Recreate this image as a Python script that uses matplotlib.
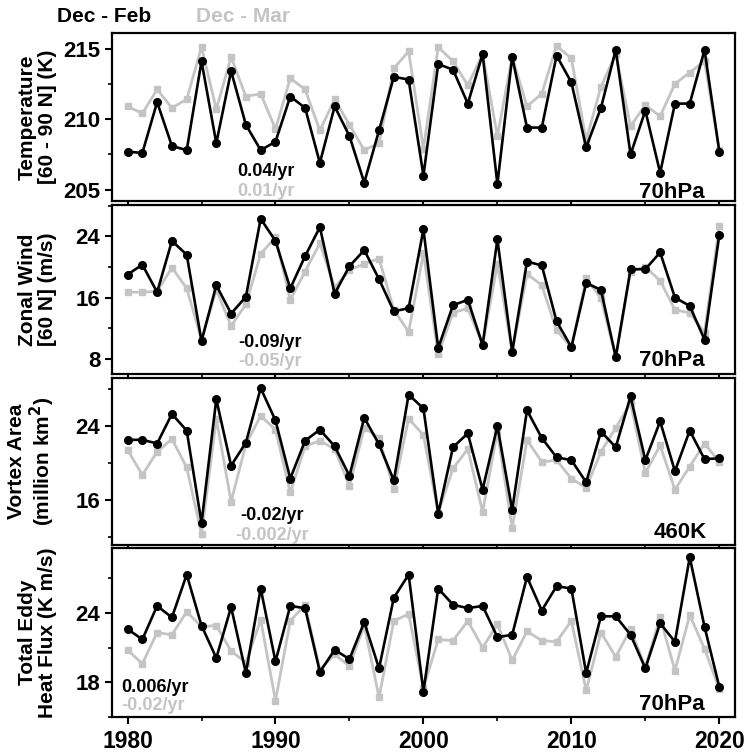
import numpy as np
import matplotlib
matplotlib.use("Agg")
import matplotlib.pyplot as plt
from matplotlib.ticker import MultipleLocator

years = np.arange(1980, 2021)

# polar cap temperature at 70hPa (K)
temp_djf = [207.7, 207.6, 211.2, 208.1, 207.8, 214.1, 208.3, 213.4, 209.6, 207.8,
            208.4, 211.6, 210.8, 206.9, 210.9, 208.8, 205.5, 209.2, 213.0, 212.8,
            206.0, 213.9, 213.5, 211.1, 214.6, 205.4, 214.4, 209.4, 209.4, 214.5,
            212.6, 208.0, 210.8, 214.9, 207.5, 210.6, 206.2, 211.1, 211.1, 214.9,
            207.7]
temp_djfm = [210.9, 210.4, 212.1, 210.8, 211.4, 215.1, 210.7, 214.4, 211.6, 211.8,
             209.3, 212.9, 212.1, 209.2, 211.4, 209.6, 207.8, 208.3, 213.6, 214.8,
             207.9, 215.1, 214.1, 212.4, 214.6, 208.8, 214.4, 210.9, 211.8, 215.2,
             214.3, 208.5, 212.3, 214.6, 209.5, 211.0, 210.2, 212.5, 213.3, 214.1,
             207.8]

# zonal mean zonal wind at 60N, 70hPa (m/s)
wind_djf = [19.0, 20.3, 16.7, 23.4, 21.6, 10.3, 17.6, 13.9, 16.1, 26.3,
            23.4, 17.2, 21.4, 25.2, 16.5, 20.1, 22.2, 18.4, 14.2, 14.6,
            24.9, 9.4, 15.0, 15.7, 9.8, 23.6, 8.9, 20.7, 20.2, 12.9,
            9.5, 17.9, 17.0, 8.2, 19.7, 19.7, 21.9, 16.0, 14.9, 10.5,
            24.2]
wind_djfm = [16.7, 16.7, 16.8, 19.9, 17.2, 10.5, 17.0, 12.3, 15.1, 21.7,
             23.9, 15.7, 19.4, 23.1, 17.3, 19.6, 20.4, 21.1, 14.4, 11.5,
             21.8, 8.6, 14.0, 14.6, 9.8, 20.4, 8.9, 19.1, 17.6, 11.7,
             9.5, 18.5, 15.9, 8.2, 19.4, 20.0, 18.2, 14.4, 14.0, 11.4,
             25.4]

# polar vortex area at 460K (million km^2)
area_djf = [22.5, 22.5, 22.1, 25.3, 23.5, 13.5, 26.9, 19.7, 22.2, 28.1,
            24.6, 18.3, 22.4, 23.6, 21.8, 18.6, 24.9, 22.0, 18.1, 27.4,
            25.9, 14.5, 21.7, 23.2, 17.1, 24.0, 14.9, 25.7, 22.7, 20.6,
            20.3, 17.9, 23.4, 21.7, 27.2, 20.3, 24.5, 19.1, 23.5, 20.4,
            20.5]
area_djfm = [21.4, 18.7, 21.2, 22.6, 19.5, 12.3, 24.8, 15.8, 22.0, 25.1,
             23.6, 16.8, 21.8, 22.4, 21.5, 17.5, 23.8, 22.7, 17.2, 24.8,
             23.0, 14.6, 19.4, 21.5, 14.7, 23.4, 12.9, 22.5, 20.1, 20.3,
             18.3, 17.3, 21.2, 23.8, 26.5, 18.9, 21.9, 17.1, 19.6, 22.1,
             20.1]

# total eddy heat flux at 70hPa (K m/s)
flux_djf = [22.6, 21.7, 24.6, 23.6, 27.3, 22.9, 20.1, 24.5, 18.8, 26.1,
            19.8, 24.6, 24.4, 18.9, 20.8, 20.0, 23.2, 19.2, 25.3, 27.3,
            17.2, 26.1, 24.7, 24.4, 24.6, 21.9, 22.1, 27.1, 24.2, 26.3,
            26.1, 18.8, 23.7, 23.7, 22.1, 19.2, 23.1, 21.5, 28.8, 22.8,
            17.6]
flux_djfm = [20.8, 19.6, 22.3, 22.1, 24.1, 22.8, 22.9, 20.7, 19.7, 23.4,
             16.4, 23.3, 24.7, 19.1, 20.4, 19.4, 22.9, 16.7, 23.3, 23.9,
             17.5, 21.7, 21.6, 23.3, 21.0, 23.0, 19.9, 22.4, 21.6, 21.5,
             23.3, 17.3, 22.3, 20.2, 22.6, 19.3, 23.6, 19.0, 23.8, 20.9,
             17.4]

trend_djf = ["0.04/yr", "-0.09/yr", "-0.02/yr", "0.006/yr"]
trend_djfm = ["0.01/yr", "-0.05/yr", "-0.002/yr", "-0.02/yr"]
levels = ["70hPa", "70hPa", "460K", "70hPa"]
ylabels = ["Temperature\n[60 - 90 N] (K)", "Zonal Wind\n[60 N] (m/s)",
           "Vortex Area\n(million km$^\\mathbf{2}$)", "Total Eddy\nHeat Flux (K m/s)"]

GRAY = "#c4c4c4"
FONT = ["Liberation Sans", "DejaVu Sans"]
W, H = 748, 753

fig = plt.figure(figsize=(W / 100, H / 100), dpi=100)

# panel pixel boxes: (top, bottom)
boxes = [(33, 201), (205, 374), (378, 545), (548, 717)]
left, right = 112, 735
ylims = [(204.2, 216.1), (6.0, 28.1), (11.1, 29.2), (15.0, 29.6)]
ymaj = [5, 8, 8, 6]
series = [(temp_djf, temp_djfm), (wind_djf, wind_djfm),
          (area_djf, area_djfm), (flux_djf, flux_djfm)]

# text anchors in figure pixels: (x_trend, y_trend1, y_trend2, ha, x_level, y_level)
txt = [(266, 172, 191, "center", 672, 192),
       (270, 342, 362, "center", 672, 361),
       (272, 516, 535, "center", 680, 532),
       (121, 687, 706, "left", 672, 705)]

def fx(px):
    return px / W

def fy(py):
    return 1 - py / H

axes = []
for i, (top, bot) in enumerate(boxes):
    ax = fig.add_axes([fx(left), fy(bot), fx(right) - fx(left), (bot - top) / H])
    d1, d2 = series[i]
    ax.plot(years, d2, color=GRAY, lw=2, marker="s", ms=4, zorder=2)
    ax.plot(years, d1, color="black", lw=1.9, marker="o", ms=5.5, zorder=3)
    ax.set_xlim(1978.95, 2021.06)
    ax.set_ylim(*ylims[i])
    ax.yaxis.set_major_locator(MultipleLocator(ymaj[i]))
    ax.yaxis.set_minor_locator(MultipleLocator(ymaj[i] / 2))
    ax.xaxis.set_major_locator(MultipleLocator(10))
    ax.xaxis.set_minor_locator(MultipleLocator(5))
    ax.tick_params(axis="both", which="major", direction="out", length=5, width=1.5)
    ax.tick_params(axis="both", which="minor", direction="out", length=3, width=1.2)
    for s in ax.spines.values():
        s.set_linewidth(1.6)
    for lab in ax.get_yticklabels():
        lab.set_family(FONT)
        lab.set_fontweight("bold")
        lab.set_fontsize(16)
    if i < 3:
        ax.tick_params(axis="x", labelbottom=False)
    else:
        ax.tick_params(axis="x", pad=4)
        for lab in ax.get_xticklabels():
            lab.set_family(FONT)
            lab.set_fontweight("bold")
            lab.set_fontsize(16.5)
    ax.set_ylabel(ylabels[i], fontsize=15, fontweight="bold",
                  family=FONT, linespacing=1.05)
    ax.yaxis.set_label_coords(-0.089, 0.5)

    xt, y1, y2, ha, xl, yl = txt[i]
    fig.text(fx(xt), fy(y1), trend_djf[i], color="black", ha=ha, va="center",
             fontsize=13, fontweight="bold", family=FONT)
    fig.text(fx(xt), fy(y2), trend_djfm[i], color=GRAY, ha=ha, va="center",
             fontsize=13, fontweight="bold", family=FONT)
    fig.text(fx(xl), fy(yl), levels[i], color="black", ha="center", va="center",
             fontsize=16, fontweight="bold", family=FONT)
    axes.append(ax)

fig.text(fx(57), fy(16), "Dec - Feb", color="black", ha="left", va="center",
         fontsize=15, fontweight="bold", family=FONT)
fig.text(fx(196), fy(16), "Dec - Mar", color=GRAY, ha="left", va="center",
         fontsize=15, fontweight="bold", family=FONT)

fig.savefig("out.png", dpi=100)
